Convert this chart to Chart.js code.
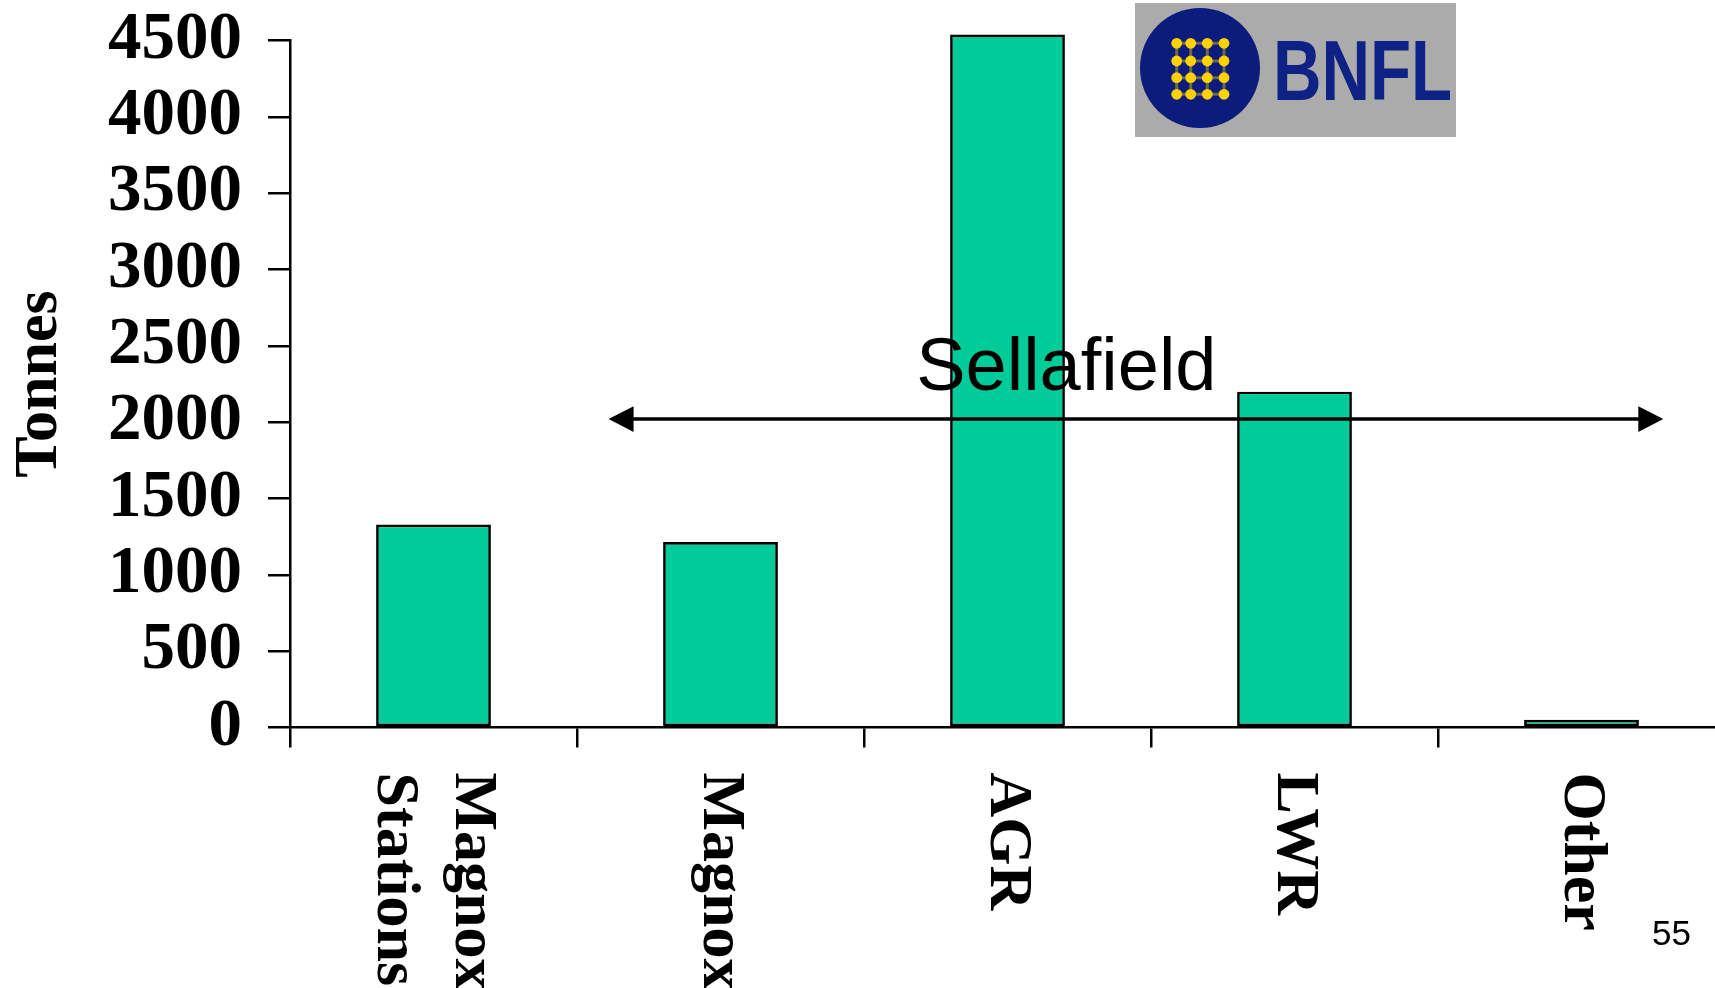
<!DOCTYPE html>
<html>
<head>
<meta charset="utf-8">
<script src="https://cdn.jsdelivr.net/npm/chart.js@4/dist/chart.umd.min.js"></script>
<style>
  html, body { margin: 0; padding: 0; background: #ffffff; overflow: hidden; width: 1715px; height: 988px; }
  #wrap { position: relative; width: 1715px; height: 988px; overflow: hidden; }
  #wrap canvas { position: absolute; left: 0; top: 0; }
</style>
</head>
<body>
<div id="wrap"><canvas id="chart" width="1725" height="988"></canvas></div>
<script>
// Spent fuel inventory by reactor type (tonnes)
const categories = [['Magnox', 'Stations'], 'Magnox', 'AGR', 'LWR', 'Other'];
const tonnes = [1330, 1215, 4540, 2200, 50];
const yTickValues = [0, 500, 1000, 1500, 2000, 2500, 3000, 3500, 4000, 4500];
const yTitle = 'Tonnes';
const siteLabel = 'Sellafield';
const pageNumber = '55';

// Sellafield span, in category / tonne units
const siteSpan = { from: 0.61, to: 4.285, level: 2020, labelAt: 2.205, labelLevel: 2210 };

const SERIF = "'Liberation Serif', 'Times New Roman', serif";
const SANS = "'Liberation Sans', Arial, sans-serif";

function drawLogo(ctx) {
  ctx.save();
  ctx.filter = 'blur(0.6px)';
  ctx.fillStyle = '#ababab';
  ctx.fillRect(1135, 3, 321, 134);
  ctx.fillStyle = '#0b1c7c';
  ctx.beginPath();
  ctx.arc(1200, 68, 60, 0, Math.PI * 2);
  ctx.fill();
  const xs = [1176.7, 1190.7, 1207.3, 1224];
  const ys = [43.3, 61, 77.7, 94.3];
  ctx.strokeStyle = '#6e6a48';
  ctx.lineWidth = 3;
  xs.forEach(px => { ctx.beginPath(); ctx.moveTo(px, ys[0]); ctx.lineTo(px, ys[3]); ctx.stroke(); });
  ys.forEach(py => { ctx.beginPath(); ctx.moveTo(xs[0], py); ctx.lineTo(xs[3], py); ctx.stroke(); });
  ctx.fillStyle = '#ffd200';
  xs.forEach(px => ys.forEach(py => {
    ctx.beginPath(); ctx.arc(px, py, 5.4, 0, Math.PI * 2); ctx.fill();
  }));
  ctx.fillStyle = '#0e2184';
  ctx.font = "bold 85px " + SANS;
  ctx.textBaseline = 'alphabetic';
  ctx.textAlign = 'left';
  const w = ctx.measureText('BNFL').width;
  ctx.translate(1273, 100);
  ctx.scale(179 / w, 1);
  ctx.fillText('BNFL', 0, 0);
  ctx.restore();
}

const overlay = {
  id: 'overlay',
  afterDatasetsDraw(chart) {
    const { ctx, scales: { x, y } } = chart;
    const x0 = x.getPixelForValue(siteSpan.from);
    const x1 = x.getPixelForValue(siteSpan.to);
    const ya = y.getPixelForValue(siteSpan.level);
    const head = 25, half = 12.8;
    ctx.save();
    ctx.strokeStyle = '#000';
    ctx.fillStyle = '#000';
    ctx.lineWidth = 3.5;
    ctx.beginPath();
    ctx.moveTo(x0 + head - 1, ya);
    ctx.lineTo(x1 - head + 1, ya);
    ctx.stroke();
    ctx.beginPath();
    ctx.moveTo(x0, ya); ctx.lineTo(x0 + head, ya - half); ctx.lineTo(x0 + head, ya + half); ctx.closePath();
    ctx.fill();
    ctx.beginPath();
    ctx.moveTo(x1, ya); ctx.lineTo(x1 - head, ya - half); ctx.lineTo(x1 - head, ya + half); ctx.closePath();
    ctx.fill();
    ctx.font = "74px " + SANS;
    ctx.textAlign = 'center';
    ctx.textBaseline = 'alphabetic';
    ctx.fillText(siteLabel, x.getPixelForValue(siteSpan.labelAt), y.getPixelForValue(siteSpan.labelLevel));
    ctx.restore();
  },
  afterDraw(chart) {
    const { ctx, scales: { x } } = chart;
    // Category labels, turned a quarter clockwise
    ctx.save();
    ctx.fillStyle = '#000';
    ctx.font = "bold 62px " + SERIF;
    ctx.textAlign = 'left';
    ctx.textBaseline = 'middle';
    const lineH = 78;
    const top = x.top + 45;
    categories.forEach((lab, i) => {
      const lines = Array.isArray(lab) ? lab : [lab];
      const cx = x.getPixelForValue(i);
      ctx.save();
      ctx.translate(cx, top);
      ctx.rotate(Math.PI / 2);
      lines.forEach((t, k) => {
        ctx.fillText(t, 0, (k - (lines.length - 1) / 2) * lineH);
      });
      ctx.restore();
    });
    ctx.restore();

    drawLogo(ctx);

    ctx.save();
    ctx.fillStyle = '#000';
    ctx.font = "35px " + SANS;
    ctx.textAlign = 'left';
    ctx.textBaseline = 'alphabetic';
    ctx.fillText(pageNumber, 1652, 945);
    ctx.restore();
  }
};

new Chart(document.getElementById('chart'), {
  type: 'bar',
  data: {
    labels: categories,
    datasets: [{
      data: tonnes,
      backgroundColor: '#00cc99',
      borderColor: '#000000',
      borderWidth: 2.7,
      borderSkipped: false,
      barPercentage: 0.4,
      categoryPercentage: 1.0,
      clip: false
    }]
  },
  options: {
    responsive: false,
    animation: false,
    devicePixelRatio: 1,
    layout: { padding: { top: 40.5, left: 0, right: 0, bottom: 0 } },
    plugins: { legend: { display: false }, tooltip: { enabled: false } },
    scales: {
      x: {
        offset: true,
        grid: { display: true, offset: true, drawOnChartArea: false, drawTicks: true, tickLength: 20, color: '#000', lineWidth: 2.5 },
        border: { display: true, color: '#000', width: 2.5 },
        ticks: { display: false },
        afterFit(scale) {
          scale.height = 260.5;
          scale.paddingLeft = 0;
          scale.paddingRight = 0;
        }
      },
      y: {
        min: 0,
        max: 4500,
        afterBuildTicks(scale) { scale.ticks = yTickValues.map(v => ({ value: v })); },
        grid: { display: true, drawOnChartArea: false, drawTicks: true, tickLength: 22, color: '#000', lineWidth: 2.5 },
        border: { display: true, color: '#000', width: 2.5 },
        ticks: {
          color: '#000',
          padding: 26,
          autoSkip: false,
          font: { family: SERIF, size: 67, weight: 'bold' },
          callback: v => String(v)
        },
        title: {
          display: true,
          text: yTitle,
          color: '#000',
          padding: { top: 3, bottom: 0 },
          font: { family: SERIF, size: 62, weight: 'bold' }
        },
        afterFit(scale) {
          scale.width = 290;
          scale.paddingTop = 0;
          scale.paddingBottom = 0;
        }
      }
    }
  },
  plugins: [overlay]
});
</script>
</body>
</html>
